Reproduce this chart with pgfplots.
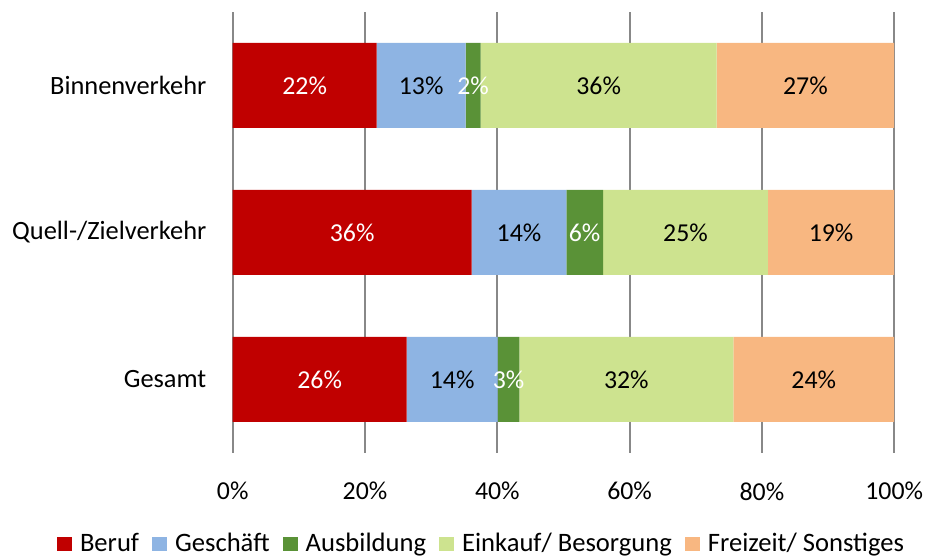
\documentclass[border=0pt]{standalone}
\usepackage{fontspec}
\setmainfont{Carlito}
\usepackage{pgfplots}
\pgfplotsset{compat=1.18}
\definecolor{cberuf}{HTML}{C00000}
\definecolor{cgesch}{HTML}{8EB4E3}
\definecolor{causb}{HTML}{5A9237}
\definecolor{ceink}{HTML}{CDE38F}
\definecolor{cfrei}{HTML}{F8B781}
\definecolor{cgrid}{HTML}{888888}

\begin{document}
\fontsize{13.2pt}{15pt}\selectfont
\begin{tikzpicture}
\useasboundingbox (0,0) rectangle (464pt,280pt);
\begin{axis}[
  at={(116.35pt,53.5pt)}, anchor=south west,
  scale only axis,
  width=330.75pt, height=220.5pt,
  xbar stacked,
  bar width=42.5pt,
  xmin=0, xmax=100,
  ymin=-0.5, ymax=2.5,
  xtick={0,20,40,60,80,100},
  xticklabel={\pgfmathprintnumber{\tick}\%},
  ytick={0,1,2},
  yticklabels={Gesamt, Quell-/Zielverkehr, Binnenverkehr},
  /pgf/number format/assume math mode=true,
  xmajorgrids,
  grid style={cgrid, line width=1pt},
  axis line style={draw=none},
  major tick length=0pt,
  xticklabel style={font=\fontsize{12.9pt}{15pt}\selectfont, inner sep=0pt, anchor=north, yshift=-14.5pt},
  yticklabel style={font=\fontsize{13.2pt}{15pt}\selectfont, inner sep=0pt, anchor=east, xshift=-13pt},
  visualization depends on=rawx \as \rawx,
  nodes near coords={\pgfmathprintnumber[fixed,precision=0]{\rawx}\%},
  every node near coord/.append style={anchor=center, font=\fontsize{12.9pt}{15pt}\selectfont, inner sep=0pt},
  legend style={at={(0.3746,-0.2063)}, anchor=center, draw=none, fill=none,
    legend columns=-1, font=\fontsize{13.3pt}{15pt}\selectfont,
    /tikz/every odd column/.append style={column sep=4pt},
    /tikz/every even column/.append style={column sep=6.5pt},
    nodes={inner sep=0pt}},
  legend image code/.code={\fill[#1, draw=none] (0pt,-3.5pt) rectangle (7.5pt,3.5pt);},
]
\addplot[fill=cberuf, draw=none, every node near coord/.append style={text=white}]
  coordinates {(26.30,0) (36.13,1) (21.77,2)};
\addlegendentry{Beruf}
\addplot[fill=cgesch, draw=none, every node near coord/.append style={text=black}]
  coordinates {(13.76,0) (14.30,1) (13.45,2)};
\addlegendentry{Geschäft}
\addplot[fill=causb, draw=none, every node near coord/.append style={text=white}]
  coordinates {(3.27,0) (5.55,1) (2.25,2)};
\addlegendentry{Ausbildung}
\addplot[fill=ceink, draw=none, every node near coord/.append style={text=black}]
  coordinates {(32.35,0) (24.94,1) (35.70,2)};
\addlegendentry{Einkauf/ Besorgung}
\addplot[fill=cfrei, draw=none, every node near coord/.append style={text=black}]
  coordinates {(24.32,0) (19.08,1) (26.83,2)};
\addlegendentry{Freizeit/ Sonstiges}
\end{axis}
\end{tikzpicture}
\end{document}
